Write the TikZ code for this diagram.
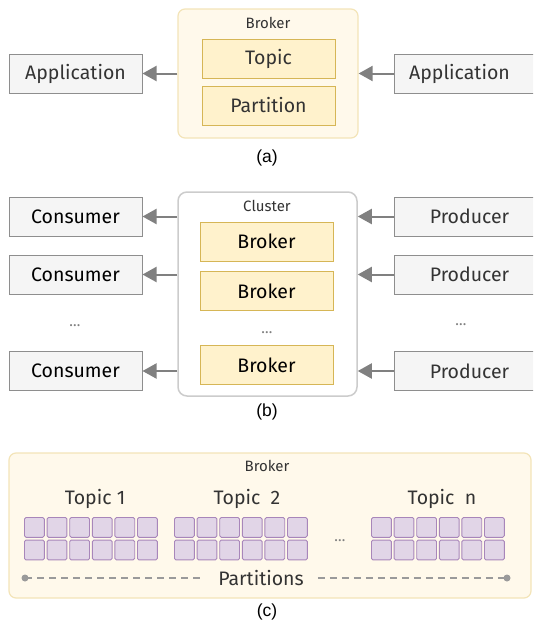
\documentclass[tikz,border=0pt]{standalone}
\usepackage{fontspec}
\setmainfont{Fira Sans}
\newfontfamily\capfont{Liberation Sans}
\usetikzlibrary{arrows.meta}
\definecolor{boxfill}{HTML}{F5F5F5}
\definecolor{boxline}{HTML}{8E8E8E}
\definecolor{topicfill}{HTML}{FFF2CC}
\definecolor{topicline}{HTML}{D6B656}
\definecolor{creamfill}{HTML}{FFF9EB}
\definecolor{creamline}{HTML}{F3E4B8}
\definecolor{partfill}{HTML}{E1D5E7}
\definecolor{partline}{HTML}{A886BA}
\definecolor{arrowgray}{HTML}{808080}
\definecolor{textgray}{HTML}{333333}
\tikzset{
  bigtext/.style={font=\fontsize{19.5}{22}\selectfont},
  smalltext/.style={font=\fontsize{15}{18}\selectfont, text=textgray},
  appbox/.style={draw=boxline, fill=boxfill, line width=1pt, minimum width=133, minimum height=39, inner sep=0pt, bigtext, text=textgray},
  rbox/.style={appbox, anchor=west, minimum width=150},
  topicbox/.style={draw=topicline, fill=topicfill, line width=1pt, minimum width=133, minimum height=39, inner sep=0pt, bigtext, text=textgray},
  creambox/.style={draw=creamline, fill=creamfill, line width=1.2pt, rounded corners=7pt, inner sep=0pt},
  flow/.style={draw=arrowgray, line width=2pt, -{Triangle[length=14pt,width=15pt]}},
  caption/.style={font=\capfont\fontsize{17.5}{20}\selectfont},
  dots/.style={font=\fontsize{15}{18}\selectfont, text=gray},
}
\begin{document}
\begin{tikzpicture}[x=1pt,y=-1pt]
  \useasboundingbox (0,0) rectangle (533,632);
  \clip (0,0) rectangle (533,632);

  % (a) one broker
  \node[creambox, minimum width=180, minimum height=129] (brokerA) at (268,73.5) {};
  \node[smalltext] (brokerAlbl) at (268,23) {Broker};
  \node[topicbox] (topicA) at (268.5,59) {Topic};
  \node[topicbox] (partA) at (268.5,105.5) {Partition};
  \node[appbox] (appL) at (75.5,73.5) {Application};
  \node[rbox] (appR) at (394,73.5) {Application\hspace*{20pt}};
  \draw[flow] (brokerA.west |- appL) -- (appL.east); % to consumer app
  \draw[flow] (appR.west) -- (brokerA.east |- appR); % from producer app
  \node[caption] (capA) at (267,158) {(a)};

  % (b) cluster of brokers
  \node[draw=black!20, fill=white, line width=1.5pt, rounded corners=9pt, minimum width=179, minimum height=204] (cluster) at (267.5,294) {};
  \node[smalltext] (clusterlbl) at (267,206) {Cluster};
  \foreach \y/\n in {241.5/1, 291/2, 365/3} {
    \node[topicbox, text=black] (broker\n) at (266.5,\y) {Broker};
  }
  \node[dots] (bdots) at (267,333) {\dots};
  \foreach \y/\n in {216.5/1, 274.5/2, 371/3} {
    \node[appbox, text=black] (con\n) at (75.5,\y) {Consumer};
    \node[rbox] (pro\n) at (394,\y) {Producer};
    \draw[flow] (cluster.west |- con\n) -- (con\n.east); % out
    \draw[flow] (pro\n.west) -- (cluster.east |- pro\n); % in
  }
  \node[dots] (cdots) at (75,326) {\dots};
  \node[dots] (pdots) at (461,325) {\dots};
  \node[caption] (capB) at (267,412) {(b)};

  % (c) topics and partitions inside a broker
  \node[creambox, minimum width=522, minimum height=145] (brokerC) at (270,525.5) {};
  \node[smalltext] (brokerClbl) at (267,466) {Broker};
  \node[bigtext, text=textgray] (topic1) at (95,499) {Topic 1};
  \node[bigtext, text=textgray] (topic2) at (247,499) {Topic\ \ 2};
  \node[bigtext, text=textgray] (topicn) at (442,499) {Topic\ \ n};
  \foreach \gx in {24,174,371} {
    \foreach \i in {0,...,5} {
      \foreach \j in {0,1} {
        \draw[draw=partline, fill=partfill, line width=0.9pt, rounded corners=1.5pt]
          ({\gx+\i*22.6+0.5},{517.5+\j*22.6}) rectangle ++(19.8,19.8); % partition cell
      }
    }
  }
  \node[dots] (tdots) at (340,541) {\dots};
  \coordinate (pl) at (25,578);
  \coordinate (pr) at (507,578);
  \node[bigtext, text=textgray, inner xsep=14pt] (parts) at (261,578) {Partitions};
  \draw[arrowgray!80, line width=1.5pt, dash pattern=on 7pt off 5pt] (pl) -- (parts.west);
  \draw[arrowgray!80, line width=1.5pt, dash pattern=on 7pt off 5pt] (parts.east) -- (pr);
  \fill[arrowgray!80] (pl) circle (3.5pt) (pr) circle (3.5pt); % ends
  \node[caption] (capC) at (267,612) {(c)};
\end{tikzpicture}
\end{document}
